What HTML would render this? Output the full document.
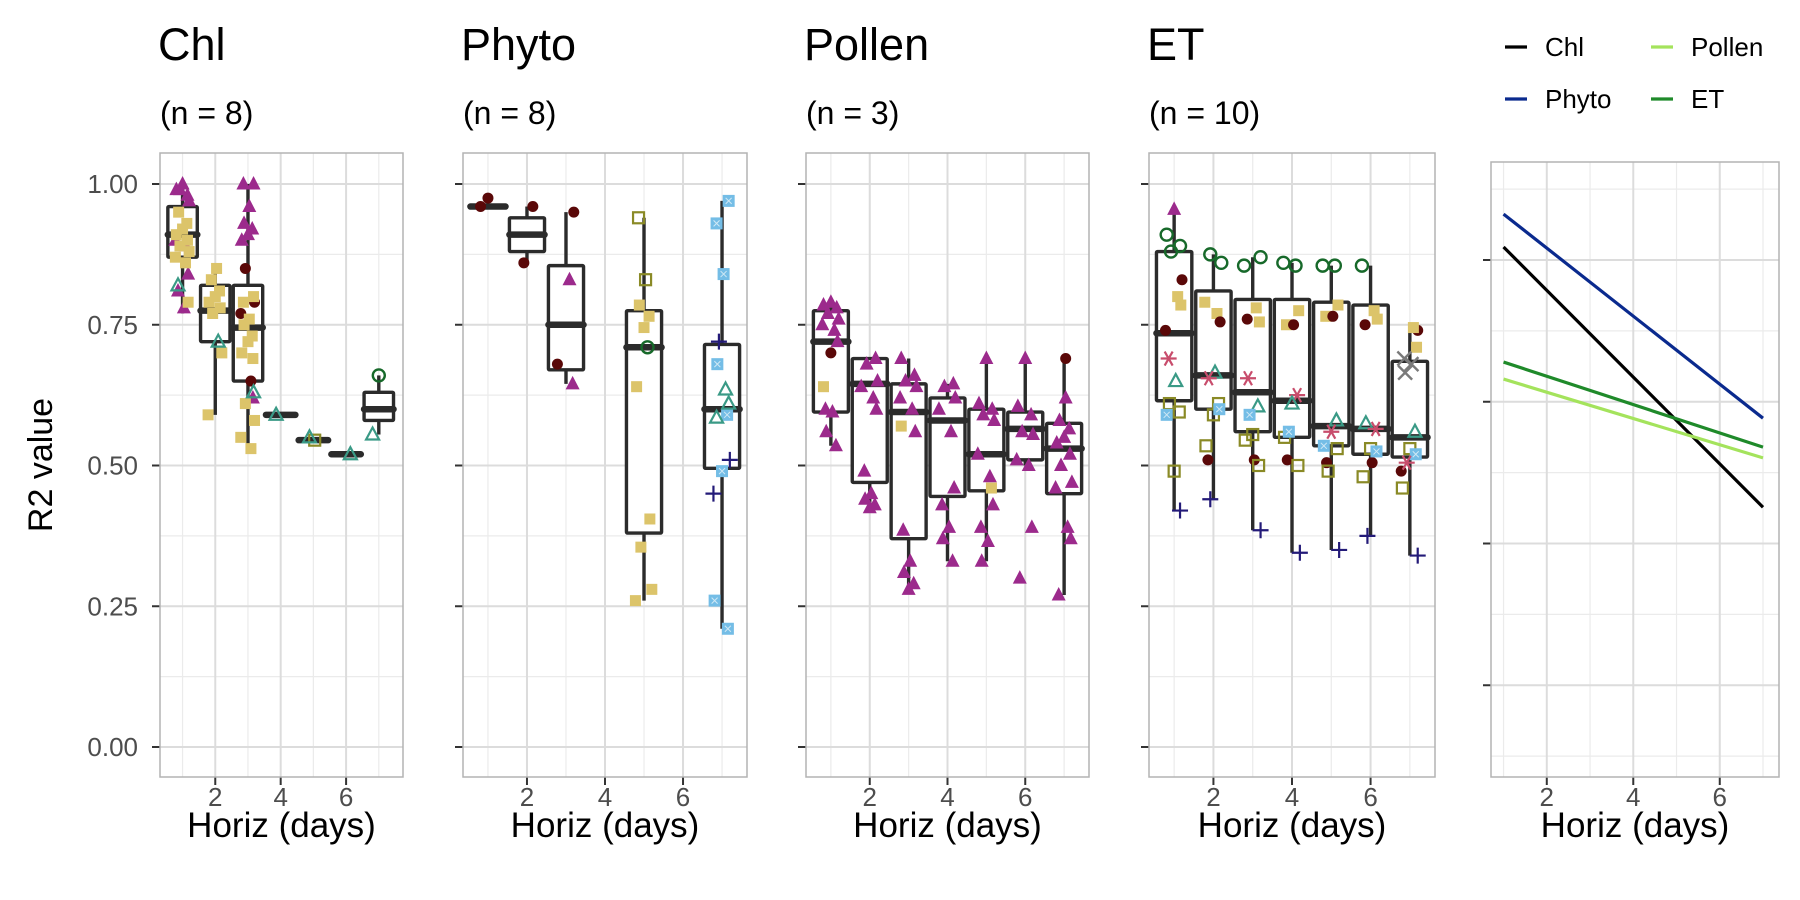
<!DOCTYPE html>
<html><head><meta charset="utf-8"><style>
body{margin:0;background:#fff}
svg{display:block;font-family:"Liberation Sans",sans-serif}
</style></head><body>
<svg id="chart" width="1800" height="900" viewBox="0 0 1800 900" xmlns="http://www.w3.org/2000/svg">
<g id="grid"></g><g id="boxes"></g><g id="pts"></g><g id="lines"></g><g id="frames"></g><g id="txt"></g>
</svg>
<script>
// ---- data ----
const horizonTicks=[2,4,6];
const yTicks=[0,0.25,0.5,0.75,1.0];
const yTickLabels=["0.00","0.25","0.50","0.75","1.00"];
const panelTitles=["Chl","Phyto","Pollen","ET"];
const panelCounts=["(n = 8)","(n = 8)","(n = 3)","(n = 10)"];
// boxes: [horizon, lower, q1, median, q3, upper]
const chlBox=[[1,0.77,0.87,0.91,0.96,1.0],[2,0.59,0.72,0.775,0.82,0.85],[3,0.53,0.65,0.745,0.82,1.0],[4,0.59,0.59,0.59,0.59,0.59],[5,0.545,0.545,0.545,0.545,0.545],[6,0.52,0.52,0.52,0.52,0.52],[7,0.555,0.58,0.60,0.63,0.66]];
const phytoBox=[[1,0.96,0.96,0.96,0.96,0.96],[2,0.86,0.88,0.91,0.94,0.96],[3,0.645,0.67,0.75,0.855,0.95],[5,0.26,0.38,0.71,0.775,0.94],[7,0.21,0.495,0.60,0.715,0.97]];
const pollenBox=[[1,0.535,0.595,0.72,0.775,0.79],[2,0.425,0.47,0.645,0.69,0.69],[3,0.28,0.37,0.595,0.645,0.69],[4,0.33,0.445,0.58,0.62,0.645],[5,0.33,0.455,0.52,0.60,0.69],[6,0.50,0.51,0.565,0.595,0.69],[7,0.27,0.45,0.53,0.575,0.69]];
const etBox=[[1,0.42,0.615,0.735,0.88,0.955],[2,0.44,0.60,0.66,0.81,0.875],[3,0.385,0.56,0.63,0.795,0.87],[4,0.345,0.55,0.615,0.795,0.86],[5,0.35,0.535,0.57,0.79,0.855],[6,0.375,0.52,0.565,0.785,0.855],[7,0.34,0.515,0.55,0.685,0.745]];
// points: [horizon, shape, values]
const chlPts=[[1,'tri',[1.0,0.99,0.98,0.99,0.97,0.90,0.89,0.84,0.81,0.78]],[1,'sq',[0.95,0.93,0.92,0.91,0.90,0.89,0.88,0.87,0.86,0.79]],[1,'otri',[0.82]],
[2,'sq',[0.85,0.83,0.81,0.80,0.79,0.78,0.77,0.70,0.59]],[2,'otri',[0.72]],
[3,'tri',[1.0,1.0,0.96,0.93,0.92,0.91,0.90,0.62]],[3,'dot',[0.85,0.79,0.77,0.65]],[3,'sq',[0.80,0.79,0.76,0.75,0.73,0.72,0.70,0.69,0.61,0.58,0.55,0.53]],[3,'otri',[0.63]],
[4,'otri',[0.59]],[5,'osq',[0.545]],[5,'otri',[0.55]],[6,'otri',[0.52]],[7,'oc',[0.66]],[7,'otri',[0.555]]];
const phytoPts=[[1,'dot',[0.975,0.96]],[2,'dot',[0.96,0.86]],[3,'dot',[0.95,0.68]],[3,'tri',[0.83,0.645]],
[5,'osq',[0.94,0.83]],[5,'sq',[0.785,0.765,0.745,0.64,0.405,0.355,0.28,0.26]],[5,'oc',[0.71]],
[7,'xsq',[0.97,0.93,0.84,0.68,0.59,0.49,0.26,0.21]],[7,'plus',[0.72,0.51,0.45]],[7,'otri',[0.635,0.61,0.585]]];
const pollenPts=[[1,'tri',[0.79,0.785,0.78,0.77,0.76,0.75,0.74,0.72,0.60,0.595,0.56,0.535]],[1,'dot',[0.70]],[1,'sq',[0.64]],
[2,'tri',[0.69,0.68,0.65,0.64,0.62,0.60,0.49,0.45,0.44,0.43,0.425]],
[3,'tri',[0.69,0.66,0.65,0.64,0.62,0.60,0.56,0.385,0.33,0.31,0.29,0.28]],[3,'sq',[0.57]],
[4,'tri',[0.645,0.64,0.62,0.60,0.56,0.46,0.43,0.39,0.37,0.33]],
[5,'tri',[0.69,0.61,0.60,0.59,0.58,0.52,0.48,0.43,0.39,0.365,0.33]],[5,'sq',[0.46]],
[6,'tri',[0.69,0.605,0.59,0.56,0.555,0.51,0.50,0.39,0.30]],
[7,'tri',[0.62,0.58,0.565,0.55,0.54,0.52,0.50,0.47,0.46,0.39,0.37,0.27]],[7,'dot',[0.69]]];
const etPts=[[1,'tri',[0.955]],[1,'oc',[0.91,0.89,0.88]],[1,'dot',[0.83,0.74]],[1,'sq',[0.80,0.785]],[1,'ast',[0.69]],[1,'otri',[0.65]],[1,'osq',[0.61,0.595,0.49]],[1,'xsq',[0.59]],[1,'plus',[0.42]],
[2,'oc',[0.875,0.86]],[2,'sq',[0.79,0.77]],[2,'dot',[0.755,0.51]],[2,'otri',[0.665]],[2,'ast',[0.655]],[2,'osq',[0.61,0.59,0.535]],[2,'xsq',[0.60]],[2,'plus',[0.44]],
[3,'oc',[0.87,0.855]],[3,'sq',[0.78,0.755]],[3,'dot',[0.76,0.51]],[3,'ast',[0.655]],[3,'otri',[0.605]],[3,'osq',[0.555,0.545,0.50]],[3,'xsq',[0.59]],[3,'plus',[0.385]],
[4,'oc',[0.86,0.855]],[4,'sq',[0.775,0.75]],[4,'dot',[0.75,0.51]],[4,'ast',[0.625]],[4,'otri',[0.61]],[4,'osq',[0.55,0.50]],[4,'xsq',[0.56]],[4,'plus',[0.345]],
[5,'oc',[0.855,0.855]],[5,'sq',[0.785,0.765]],[5,'dot',[0.765,0.505]],[5,'otri',[0.58]],[5,'ast',[0.56]],[5,'xsq',[0.535]],[5,'osq',[0.53,0.49]],[5,'plus',[0.35]],
[6,'oc',[0.855]],[6,'sq',[0.775,0.76]],[6,'dot',[0.75,0.505]],[6,'otri',[0.575]],[6,'ast',[0.565]],[6,'osq',[0.53,0.48]],[6,'xsq',[0.525]],[6,'plus',[0.375]],
[7,'dot',[0.74,0.49]],[7,'sq',[0.745,0.71]],[7,'x',[0.69,0.68,0.665]],[7,'otri',[0.56]],[7,'osq',[0.53,0.46]],[7,'xsq',[0.52]],[7,'ast',[0.505]],[7,'plus',[0.34]]];
// trend panel
const trendSeries=["Chl","Phyto","Pollen","ET"];
const trendStart=[0.773,0.831,0.540,0.570];
const trendEnd=[0.314,0.471,0.401,0.420];
const trendX=[1,7];
</script>
<script>
const NS="http://www.w3.org/2000/svg";
function mk(parent,tag,at){const e=document.createElementNS(NS,tag);for(const k in at)e.setAttribute(k,at[k]);parent.appendChild(e);return e;}
const G=id=>document.getElementById(id);
const panels=[
 {x0:160,x1:403,d0:0.31,d1:7.74,box:chlBox,pts:chlPts},
 {x0:463,x1:747,d0:0.36,d1:7.64,box:phytoBox,pts:phytoPts},
 {x0:806,x1:1089,d0:0.36,d1:7.64,box:pollenBox,pts:pollenPts},
 {x0:1149,x1:1435,d0:0.36,d1:7.64,box:etBox,pts:etPts}];
const yT=153,yB=777;
const yS=v=>747-v*563;
const COL={tri:'#9c2a8c',sq:'#dcc46a',dot:'#5a0808',otri:'#3a9a86',osq:'#8a8a26',oc:'#17692a',xsq:'#74bde6',plus:'#231a78',ast:'#c84d6c',x:'#7a7a7a'};
const jit=[0,-0.19,0.15,-0.08,0.2,-0.22,0.09,0.17,-0.14,0.04,-0.12,0.13];
function shape(g,s,x,y){
 const c=COL[s];let e;
 if(s==='tri')e=mk(g,'polygon',{points:`${x},${y-8} ${x-7},${y+5.5} ${x+7},${y+5.5}`,fill:c});
 else if(s==='otri')e=mk(g,'polygon',{points:`${x},${y-7} ${x-6.5},${y+5} ${x+6.5},${y+5}`,fill:'none',stroke:c,'stroke-width':2.2});
 else if(s==='sq')e=mk(g,'rect',{x:x-5.5,y:y-5.5,width:11,height:11,fill:c});
 else if(s==='osq')e=mk(g,'rect',{x:x-5.5,y:y-5.5,width:11,height:11,fill:'none',stroke:c,'stroke-width':2.2});
 else if(s==='dot')e=mk(g,'circle',{cx:x,cy:y,r:5.5,fill:c});
 else if(s==='oc')e=mk(g,'circle',{cx:x,cy:y,r:6,fill:'none',stroke:c,'stroke-width':2.4});
 else if(s==='xsq'){e=mk(g,'g',{});mk(e,'rect',{x:x-6,y:y-6,width:12,height:12,fill:c});mk(e,'path',{d:`M${x-3},${y-3}L${x+3},${y+3}M${x+3},${y-3}L${x-3},${y+3}`,stroke:'#cfe8f5','stroke-width':1});}
 else if(s==='plus')e=mk(g,'path',{d:`M${x-8},${y}H${x+8}M${x},${y-8}V${y+8}`,stroke:c,'stroke-width':2.2});
 else if(s==='ast')e=mk(g,'path',{d:`M${x-8},${y}H${x+8}M${x-4},${y-7}L${x+4},${y+7}M${x+4},${y-7}L${x-4},${y+7}`,stroke:c,'stroke-width':2.2});
 else if(s==='x')e=mk(g,'path',{d:`M${x-7},${y-7}L${x+7},${y+7}M${x+7},${y-7}L${x-7},${y+7}`,stroke:c,'stroke-width':2.4});
 return e;
}
function gridFor(x0,x1,xs,yTop,yBot,ys,ymaj,ymin){
 const g=G('grid');
 mk(g,'rect',{x:x0,y:yTop,width:x1-x0,height:yBot-yTop,fill:'#fff'});
 ymin.forEach(v=>{const y=ys(v);if(y>yTop&&y<yBot)mk(g,'line',{x1:x0,x2:x1,y1:y,y2:y,stroke:'#ebebeb','stroke-width':1.2});});
 [1,3,5,7].forEach(v=>{const x=xs(v);if(x<x1)mk(g,'line',{x1:x,x2:x,y1:yTop,y2:yBot,stroke:'#ebebeb','stroke-width':1.2});});
 ymaj.forEach(v=>{const y=ys(v);const l=mk(g,'line',{x1:x0,x2:x1,y1:y,y2:y,stroke:'#dcdcdc','stroke-width':2});
  
  mk(g,'line',{x1:x0-8,x2:x0,y1:y,y2:y,stroke:'#333','stroke-width':2});});
 horizonTicks.forEach(v=>{const x=xs(v);mk(g,'line',{x1:x,x2:x,y1:yTop,y2:yBot,stroke:'#dcdcdc','stroke-width':2});
  mk(g,'line',{x1:x,x2:x,y1:yB,y2:yB+8,stroke:'#333','stroke-width':2});
  const t=mk(G('txt'),'text',{x:x,y:806,'font-size':26,fill:'#4d4d4d','text-anchor':'middle'});t.textContent=v;
  });
 const f=mk(G('frames'),'rect',{x:x0,y:yTop,width:x1-x0,height:yBot-yTop,fill:'none',stroke:'#b3b3b3','stroke-width':1.5});
 
 const xt=mk(G('txt'),'text',{x:(x0+x1)/2,y:837,'font-size':35,fill:'#000','text-anchor':'middle'});xt.textContent='Horiz (days)';
 
}
panels.forEach((p,pi)=>{
 const xs=v=>p.x0+(v-p.d0)/(p.d1-p.d0)*(p.x1-p.x0);
 const day=(p.x1-p.x0)/(p.d1-p.d0);
 gridFor(p.x0,p.x1,xs,yT,yB,yS,yTicks,[0.125,0.375,0.625,0.875]);
 const bg=G('boxes');
 p.box.forEach(b=>{const [h,lo,q1,md,q3,up]=b;const x=xs(h),w=day*0.9;
  const g=mk(bg,'g',{});
  mk(g,'line',{x1:x,x2:x,y1:yS(up),y2:yS(lo),stroke:'#2b2b2b','stroke-width':3.4});
  mk(g,'rect',{x:x-w/2,y:yS(q3),width:w,height:Math.max(0.1,yS(q1)-yS(q3)),fill:'#fff',stroke:'#2b2b2b','stroke-width':3.4,rx:1});
  mk(g,'line',{x1:x-w/2,x2:x+w/2,y1:yS(md),y2:yS(md),stroke:'#2b2b2b','stroke-width':6.5,'stroke-linecap':'round'});});
 const pg=G('pts');let k=0;
 p.pts.forEach(grp=>{const [h,s,vals]=grp;vals.forEach(v=>{const x=xs(h)+jit[k%jit.length]*day;k++;
  const e=shape(pg,s,x,yS(v));});});
 const t1=mk(G('txt'),'text',{x:p.x0-2,y:60,'font-size':45,fill:'#000'});t1.textContent=panelTitles[pi];
 
 const t2=mk(G('txt'),'text',{x:p.x0,y:124,'font-size':32,fill:'#000'});t2.textContent=panelCounts[pi];
 
 if(pi===0){yTicks.forEach((v,i)=>{const t=mk(G('txt'),'text',{x:138,y:yS(v)+9,'font-size':26,fill:'#4d4d4d','text-anchor':'end'});t.textContent=yTickLabels[i];
  });}
});
// y axis title
const yt=mk(G('txt'),'text',{x:0,y:0,'font-size':34,fill:'#000','text-anchor':'middle',transform:'translate(52,465) rotate(-90)'});yt.textContent='R2 value';

// trend panel
(function(){
 const x0=1491,x1=1779,d0=0.71,d1=7.37,t=162;
 const xs=v=>x0+(v-d0)/(d1-d0)*(x1-x0);
 const ys=v=>260+(0.75-v)*567;
 gridFor(x0,x1,xs,t,yB,ys,[0,0.25,0.5,0.75],[-0.125,0.125,0.375,0.625,0.875]);
 const cols=['#000000','#0a2a8e','#a4e35c','#1f8a2a'];
 const lg=G('lines');
 trendSeries.forEach((n,i)=>{const l=mk(lg,'line',{x1:xs(trendX[0]),y1:ys(trendStart[i]),x2:xs(trendX[1]),y2:ys(trendEnd[i]),stroke:cols[i],'stroke-width':3.2});
  });
 const pos=[[1505,47],[1505,99],[1651,47],[1651,99]];
 trendSeries.forEach((n,i)=>{const g=mk(G('txt'),'g',{});
  
  mk(g,'line',{x1:pos[i][0],x2:pos[i][0]+22,y1:pos[i][1],y2:pos[i][1],stroke:cols[i],'stroke-width':3.2});
  const tx=mk(g,'text',{x:pos[i][0]+40,y:pos[i][1]+9,'font-size':26,fill:'#000'});tx.textContent=n;});
})();
</script>
</body></html>
